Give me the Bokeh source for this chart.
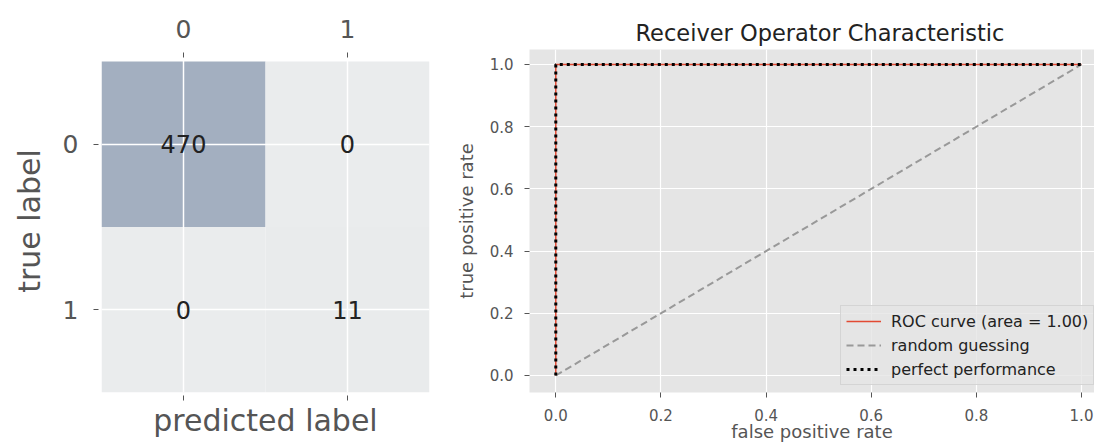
from bokeh.plotting import figure
from bokeh.layouts import row
from bokeh.models import (Range1d, FixedTicker, LinearAxis, PrintfTickFormatter,
                          ColumnDataSource, Legend, LegendItem)
from bokeh.palettes import Blues256
from bokeh.transform import linear_cmap
from bokeh.core.properties import value
from bokeh.embed import file_html
from bokeh.resources import INLINE

# ---------------- data ----------------
class_ticks = [0, 1]
true_idx = [0, 0, 1, 1]
pred_idx = [0, 1, 0, 1]
counts = [470, 0, 0, 11]

roc_fpr = [0.0, 0.0, 1.0]
roc_tpr = [0.0, 1.0, 1.0]
roc_auc = 1.00
guess_fpr = [0.0, 1.0]
guess_tpr = [0.0, 1.0]
perfect_fpr = [0.0, 0.0, 1.0]
perfect_tpr = [0.0, 1.0, 1.0]
rate_ticks = [0.0, 0.2, 0.4, 0.6, 0.8, 1.0]

FONT = "DejaVu Sans"
GRAY = "#555555"
PANEL = "#e5e5e5"


def blend(hex_color, base=PANEL, alpha=0.3):
    c = [int(hex_color[i:i + 2], 16) for i in (1, 3, 5)]
    b = [int(base[i:i + 2], 16) for i in (1, 3, 5)]
    m = [round(alpha * ci + (1 - alpha) * bi) for ci, bi in zip(c, b)]
    return "#%02x%02x%02x" % tuple(m)


cell_palette = [blend(c) for c in Blues256[::-1]]

# ---------------- confusion matrix ----------------
p1 = figure(frame_width=328, frame_height=343,
            min_border_left=101, min_border_right=10,
            min_border_top=49, min_border_bottom=45,
            x_range=Range1d(-0.5, 1.5), y_range=Range1d(1.5, -0.5725),
            x_axis_location="above", toolbar_location=None,
            output_backend="svg")
p1.background_fill_color = "white"
p1.border_fill_color = "white"
p1.outline_line_color = None

src = ColumnDataSource(dict(pred=pred_idx, true=true_idx, count=counts,
                            label=[str(c) for c in counts]))
cells = p1.rect(x="pred", y="true", width=1, height=1, source=src,
                fill_color=linear_cmap("count", cell_palette, 0, max(counts)),
                line_color=None)
cells.level = "image"
p1.text(x="pred", y="true", text="label", source=src, text_align="center",
        text_baseline="middle", text_font_size="24px", text_font=value(FONT),
        text_color="#222222")

bottom_ax = LinearAxis(axis_label="predicted label")
p1.add_layout(bottom_ax, "below")

for ax in p1.axis:
    ax.ticker = FixedTicker(ticks=class_ticks)
    ax.axis_line_color = None
    ax.major_tick_line_color = GRAY
    ax.major_tick_out = 8
    ax.major_tick_in = -3
    ax.minor_tick_line_color = None
    ax.minor_tick_out = 0
    ax.minor_tick_in = 0
    ax.major_label_text_font = FONT
    ax.major_label_text_font_size = "25px"
    ax.major_label_text_color = GRAY
    ax.major_label_standoff = 15
    ax.axis_label_text_font = FONT
    ax.axis_label_text_font_size = "30px"
    ax.axis_label_text_color = GRAY
    ax.axis_label_text_font_style = "normal"
    ax.axis_label_standoff = 13
top_ax = p1.xaxis[0]
top_ax.major_tick_out = -3
top_ax.major_tick_in = 8
top_ax.minor_tick_out = -3
top_ax.major_label_standoff = 12
bottom_ax.major_label_text_font_size = "0px"
bottom_ax.major_label_standoff = 0
bottom_ax.axis_label_standoff = 2
p1.yaxis.axis_label = "true label"

p1.xgrid.ticker = FixedTicker(ticks=class_ticks)
p1.ygrid.ticker = FixedTicker(ticks=class_ticks)
p1.grid.grid_line_color = "white"
p1.grid.grid_line_width = 1.5

# ---------------- ROC curve ----------------
p2 = figure(frame_width=565, frame_height=343,
            min_border_left=90, min_border_right=0,
            min_border_top=49, min_border_bottom=45,
            x_range=Range1d(-0.05, 1.0247), y_range=Range1d(-0.0547, 1.0482),
            title="Receiver Operator Characteristic",
            toolbar_location=None, output_backend="svg")
p2.background_fill_color = PANEL
p2.border_fill_color = "white"
p2.outline_line_color = None
p2.title.text_font = FONT
p2.title.text_font_size = "22.5px"
p2.title.text_font_style = "normal"
p2.title.text_color = "#222222"
p2.title.align = "left"
p2.title.offset = 106
p2.title.standoff = 7

r_roc = p2.line(roc_fpr, roc_tpr, line_color="#E24A33", line_width=1.5)
r_guess = p2.line(guess_fpr, guess_tpr, line_color="#999999", line_width=2,
                  line_dash="7 4")
r_perf = p2.line(perfect_fpr, perfect_tpr, line_color="black", line_width=3,
                 line_dash="3 4")

for ax in p2.axis:
    ax.ticker = FixedTicker(ticks=rate_ticks)
    ax.formatter = PrintfTickFormatter(format="%.1f")
    ax.axis_line_color = None
    ax.major_tick_line_color = GRAY
    ax.major_tick_out = 5
    ax.major_tick_in = 0
    ax.minor_tick_line_color = None
    ax.minor_tick_out = 0
    ax.major_label_text_font = FONT
    ax.major_label_text_font_size = "15px"
    ax.major_label_text_color = GRAY
    ax.major_label_standoff = 11
    ax.axis_label_text_font = FONT
    ax.axis_label_text_font_size = "18px"
    ax.axis_label_text_color = GRAY
    ax.axis_label_text_font_style = "normal"
    ax.axis_label_standoff = 10
p2.xaxis.axis_label = "false positive rate"
p2.yaxis.axis_label = "true positive rate"
p2.xaxis.major_label_standoff = 11
p2.xaxis.axis_label_standoff = -3
p2.grid.grid_line_color = "white"
p2.grid.grid_line_width = 1.2

legend = Legend(items=[
    LegendItem(label="ROC curve (area = %0.2f)" % roc_auc, renderers=[r_roc]),
    LegendItem(label="random guessing", renderers=[r_guess]),
    LegendItem(label="perfect performance", renderers=[r_perf]),
], location=(311, 7))
legend.label_text_font = FONT
legend.label_text_font_size = "16px"
legend.label_text_color = "#222222"
legend.glyph_width = 35
legend.glyph_height = 20
legend.label_height = 20
legend.label_standoff = 10
legend.spacing = 4
legend.padding = 5
legend.background_fill_color = PANEL
legend.background_fill_alpha = 0.8
legend.border_line_color = "#d0d0d0"
legend.border_line_alpha = 0.8
p2.add_layout(legend)

layout = row(p1, p2)
open("out.html", "w").write(file_html(layout, INLINE))
